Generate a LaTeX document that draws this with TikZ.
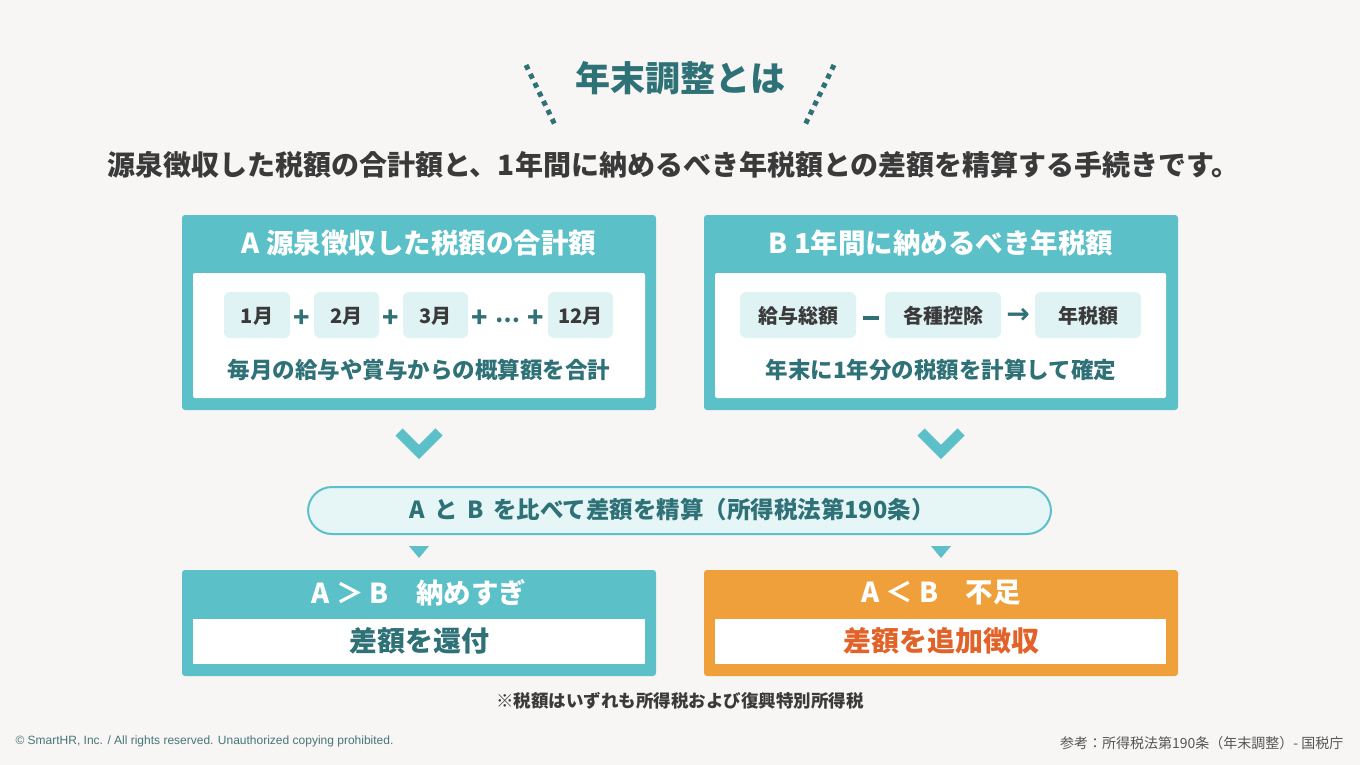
\documentclass[tikz,border=0pt]{standalone}
\usepackage{fontspec}
\setmainfont{Noto Sans CJK JP}
\newfontfamily\lat{Liberation Sans}
\newfontfamily\dv{DejaVu Sans}
\definecolor{bg}{HTML}{F7F6F4}
\definecolor{teal}{HTML}{5BC0C8}
\definecolor{dteal}{HTML}{2E7177}
\definecolor{lteal}{HTML}{DFF3F4}
\definecolor{pill}{HTML}{E6F6F7}
\definecolor{orng}{HTML}{F0A03A}
\definecolor{ored}{HTML}{E2632A}
\definecolor{dgray}{HTML}{3A3A3A}
\definecolor{mgray}{HTML}{555555}
\begin{document}
\begin{tikzpicture}[x=1pt,y=-1pt,
  outerbox/.style={rounded corners=3pt},
  chip/.style={fill=lteal,rounded corners=6pt},
  chiptxt/.style={font=\bfseries\fontsize{20}{20}\selectfont,text=dgray},
  optxt/.style={font=\bfseries\fontsize{27}{27}\selectfont,text=dteal},
  headtxt/.style={font=\bfseries\fontsize{27.5}{27.5}\selectfont,text=white},
  subtxt/.style={font=\bfseries\fontsize{22.5}{22.5}\selectfont,text=dteal},
  restxt/.style={font=\bfseries\fontsize{28}{28}\selectfont},
  chev/.style={draw=teal,line width=10pt,miter limit=10},
  tri/.style={fill=teal},
  dots/.style={draw=dteal,line width=5pt,dash pattern=on 5pt off 5pt}]
\fill[bg] (0,0) rectangle (1360,765);
\useasboundingbox (0,0) rectangle (1360,765);
% title
\node[font=\bfseries\fontsize{35}{35}\selectfont,text=dteal] (title) at (680,78) {年末調整とは};
\coordinate (dl1) at (526,65); \coordinate (dl2) at (555,125);
\coordinate (dr1) at (834,65); \coordinate (dr2) at (805,125);
\draw[dots] (dl1) -- (dl2);
\draw[dots] (dr1) -- (dr2);
\node[font=\bfseries\fontsize{28}{28}\selectfont,text=dgray] (sub) at (673.5,165) {源泉徴収した税額の合計額と、1年間に納めるべき年税額との差額を精算する手続きです。};
% Box A
\fill[teal,outerbox] (182,215) rectangle (656,410);
\fill[white,rounded corners=2pt] (193,273) rectangle (645,398);
\node[headtxt] (ha) at (419,243) {A 源泉徴収した税額の合計額};
\fill[chip] (224,292) rectangle (290,338); \node[chiptxt] (m1) at (257,316) {1月};
\fill[chip] (314,292) rectangle (379,338); \node[chiptxt] (m2) at (346.5,316) {2月};
\fill[chip] (403,292) rectangle (468,338); \node[chiptxt] (m3) at (435.5,316) {3月};
\fill[chip] (548,292) rectangle (613,338); \node[chiptxt] (m12) at (580.5,316) {12月};
\node[optxt] (p1) at (302,319) {+};
\node[optxt] (p2) at (391,319) {+};
\node[optxt] (p3) at (480,319) {+};
\node[font=\bfseries\fontsize{22}{22}\selectfont,text=dteal] (ell) at (508,320) {…};
\node[optxt] (p4) at (536,319) {+};
\node[subtxt] (ta) at (419,370) {毎月の給与や賞与からの概算額を合計};
% Box B
\fill[teal,outerbox] (704,215) rectangle (1178,410);
\fill[white,rounded corners=2pt] (715,273) rectangle (1166,398);
\node[headtxt] (hb) at (941,243) {B 1年間に納めるべき年税額};
\fill[chip] (740,292) rectangle (856,338); \node[chiptxt] (b1) at (798,316) {給与総額};
\fill[chip] (885,292) rectangle (1001,338); \node[chiptxt] (b2) at (943,316) {各種控除};
\fill[chip] (1035,292) rectangle (1141,338); \node[chiptxt] (b3) at (1088,316) {年税額};
\fill[dteal] (863,316) rectangle (879,320);
\node[font=\dv\bfseries\fontsize{28}{28}\selectfont,text=dteal] (arr) at (1018,316) {→};
\node[subtxt] (tb) at (941,370) {年末に1年分の税額を計算して確定};
% chevrons
\coordinate (ca) at (419,452); \coordinate (cb) at (941,452);
\draw[chev] ([xshift=-20pt,yshift=20pt]ca) -- (ca) -- ([xshift=20pt,yshift=20pt]ca);
\draw[chev] ([xshift=-20pt,yshift=20pt]cb) -- (cb) -- ([xshift=20pt,yshift=20pt]cb);
% pill
\draw[fill=pill,draw=teal,line width=2pt,rounded corners=24pt] (308,487) rectangle (1051,534);
\node[font=\bfseries\fontsize{23.5}{23.5}\selectfont,text=dteal] (cmp) at (672,510) {A\hspace{0.4em}と\hspace{0.4em}B\hspace{0.4em}を比べて差額を精算（所得税法第190条）};
% triangles
\fill[tri] (409,546) -- (429,546) -- (419,558) -- cycle;
\fill[tri] (931,546) -- (951,546) -- (941,558) -- cycle;
% result boxes
\fill[teal,outerbox] (182,570) rectangle (656,676);
\fill[white] (193,619) rectangle (645,664);
\node[headtxt] (ra) at (419,593) {A ＞ B　納めすぎ};
\node[restxt,text=dteal] (rat) at (419,641) {差額を還付};
\fill[orng,outerbox] (704,570) rectangle (1178,676);
\fill[white] (715,619) rectangle (1166,664);
\node[headtxt] (rb) at (941,593) {A ＜ B　不足};
\node[restxt,text=ored] (rbt) at (941,641) {差額を追加徴収};
% notes
\node[font=\bfseries\fontsize{17.5}{17.5}\selectfont,text=dgray] (note) at (680,701) {※税額はいずれも所得税および復興特別所得税};
\node[anchor=west,font=\lat\fontsize{12}{12}\selectfont,text=dteal!70!gray] (copy) at (12,741) {© SmartHR, Inc. / All rights reserved. Unauthorized copying prohibited.};
\node[anchor=east,font=\fontsize{14}{14}\selectfont,text=mgray] (ref) at (1347,743) {参考：所得税法第190条（年末調整）- 国税庁};
\end{tikzpicture}
\end{document}
